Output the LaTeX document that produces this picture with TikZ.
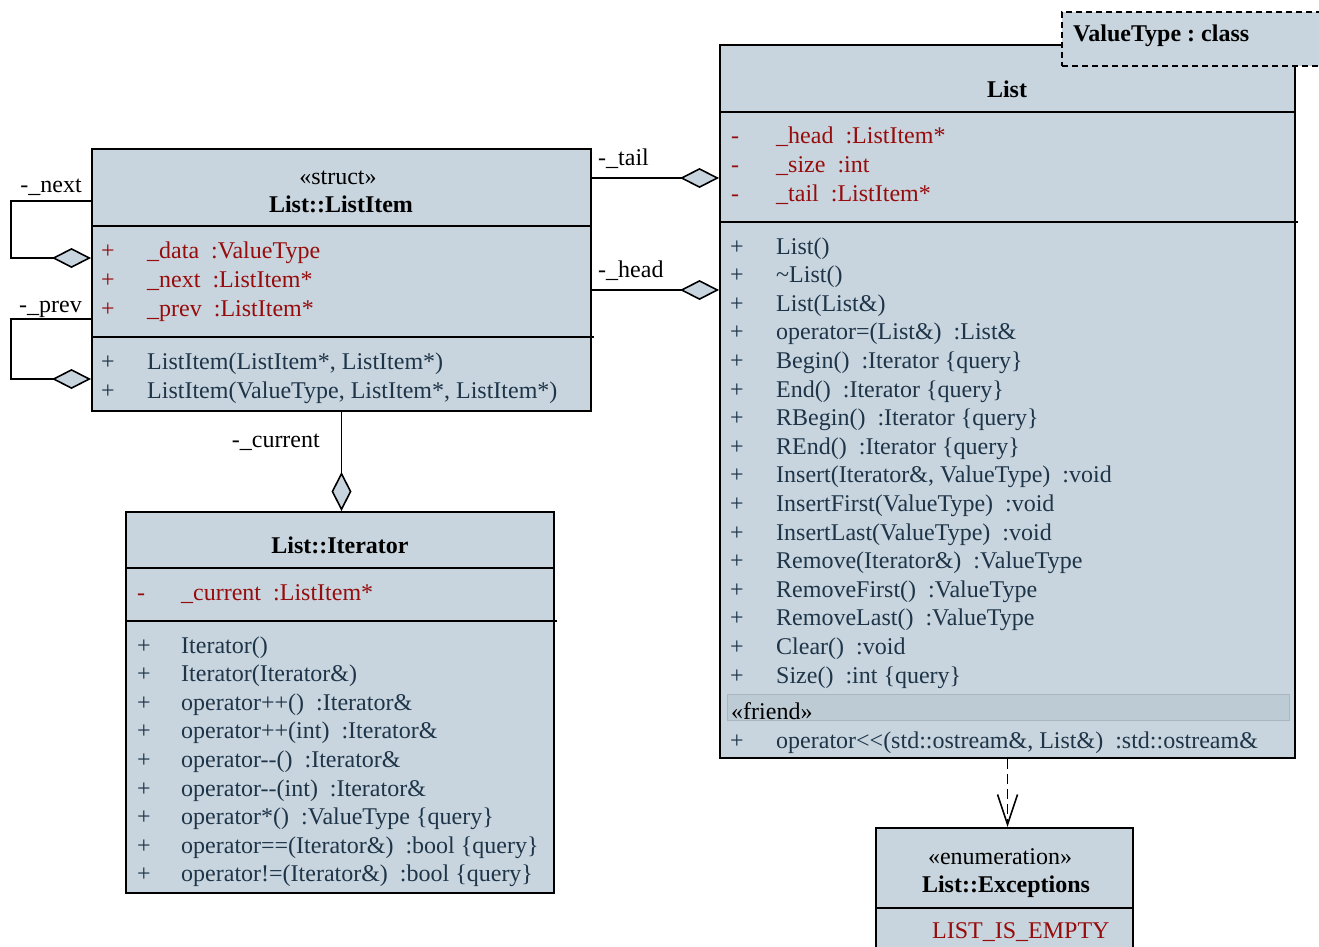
\documentclass[tikz,border=0pt]{standalone}
\usepackage{fontspec}
\setmainfont{Liberation Serif}
\usetikzlibrary{arrows.meta}
\frenchspacing

\definecolor{boxfill}{RGB}{200,213,222}
\definecolor{bandfill}{RGB}{189,203,213}
\definecolor{attrred}{RGB}{150,12,12}
\definecolor{optext}{RGB}{30,52,72}

\newcommand\umlfont{\fontsize{24}{28}\selectfont}

\tikzset{
  cls/.style={draw=black, line width=2pt, fill=boxfill, rectangle, inner sep=0pt},
  txt/.style={anchor=base west, inner sep=0pt, font=\umlfont},
  ctxt/.style={anchor=base, inner sep=0pt, font=\umlfont},
  rtxt/.style={anchor=base east, inner sep=0pt, font=\umlfont},
  attr/.style={txt, text=attrred},
  oper/.style={txt, text=optext},
  sep/.style={line width=2pt},
  agg/.style={line width=1.8pt,
    -{Diamond[length=39pt,width=20pt,fill=boxfill,line width=1.6pt]}},
  dep/.style={line width=1.8pt, dash pattern=on 10pt off 5pt,
    -{Straight Barb[length=30pt,width=20pt,line width=1.6pt]}},
}

\begin{document}
\begin{tikzpicture}[x=1pt,y=-1pt]
\useasboundingbox (0,0) rectangle (1319,946);

% ---------- List::ListItem ----------
\node[cls, minimum width=499pt, minimum height=262pt] (li) at (341.5,280) {};
\draw[sep] (92,226) -- (591,226);
\draw[sep] (92,337) -- (594,337);
\node[ctxt] (li-st) at (338,184) {«struct»};
\node[ctxt, font=\umlfont\bfseries] (li-ti) at (341,212) {List::ListItem};
\foreach \t [count=\i from 0] in {{\_data\ \ :ValueType},{\_next\ \ :ListItem*},{\_prev\ \ :ListItem*}} {
  \node[attr] (li-av\i) at (101,258+29*\i) {+};
  \node[attr] (li-an\i) at (147,258+29*\i) {\t};
}
\foreach \t [count=\i from 0] in {{ListItem(ListItem*, ListItem*)},{ListItem(ValueType, ListItem*, ListItem*)}} {
  \node[oper] (li-ov\i) at (101,369+29*\i) {+};
  \node[oper] (li-on\i) at (147,369+29*\i) {\t};
}

% ---------- List ----------
\node[cls, minimum width=575pt, minimum height=713pt] (list) at (1007.5,401.5) {};
\draw[sep] (720,112) -- (1295,112);
\draw[sep] (720,222) -- (1298,222);
\node[ctxt, font=\umlfont\bfseries] (list-ti) at (1007,97) {List};
\foreach \t [count=\i from 0] in {{\_head\ \ :ListItem*},{\_size\ \ :int},{\_tail\ \ :ListItem*}} {
  \node[attr] (list-av\i) at (731,143+29*\i) {-};
  \node[attr] (list-an\i) at (776,143+29*\i) {\t};
}
\foreach \t [count=\i from 0] in {{List()},{\textasciitilde List()},{List(List\&)},
  {operator=(List\&)\ \ :List\&},{Begin()\ \ :Iterator \{query\}},
  {End()\ \ :Iterator \{query\}},{RBegin()\ \ :Iterator \{query\}},
  {REnd()\ \ :Iterator \{query\}},{Insert(Iterator\&, ValueType)\ \ :void},
  {InsertFirst(ValueType)\ \ :void},{InsertLast(ValueType)\ \ :void},
  {Remove(Iterator\&)\ \ :ValueType},{RemoveFirst()\ \ :ValueType},
  {RemoveLast()\ \ :ValueType},{Clear()\ \ :void},{Size()\ \ :int \{query\}}} {
  \node[oper] (list-ov\i) at (730,254+28.6*\i) {+};
  \node[oper] (list-on\i) at (776,254+28.6*\i) {\t};
}
\fill[bandfill, draw=boxfill!85!black, line width=0.6pt] (727,694) rectangle (1289,720);
\node[txt] (list-fr) at (731,719) {«friend»};
\node[oper] (list-fv) at (730,748) {+};
\node[oper] (list-fn) at (776,748) {operator<{}<(std::ostream\&, List\&)\ \ :std::ostream\&};

% template parameter
\node[cls, dash pattern=on 6pt off 4pt, minimum width=268pt, minimum height=54pt] (vt) at (1196,39) {};
\node[txt, font=\umlfont\bfseries] (vt-t) at (1073,41) {ValueType : class};

% ---------- List::Iterator ----------
\node[cls, minimum width=428pt, minimum height=381pt] (it) at (340,702.5) {};
\draw[sep] (126,568) -- (554,568);
\draw[sep] (126,621) -- (557,621);
\node[ctxt, font=\umlfont\bfseries] (it-ti) at (340,553) {List::Iterator};
\node[attr] (it-av0) at (137,600) {-};
\node[attr] (it-an0) at (181,600) {\_current\ \ :ListItem*};
\foreach \t [count=\i from 0] in {{Iterator()},{Iterator(Iterator\&)},
  {operator++()\ \ :Iterator\&},{operator++(int)\ \ :Iterator\&},
  {operator-{}-()\ \ :Iterator\&},{operator-{}-(int)\ \ :Iterator\&},
  {operator*()\ \ :ValueType \{query\}},{operator==(Iterator\&)\ \ :bool \{query\}},
  {operator!=(Iterator\&)\ \ :bool \{query\}}} {
  \node[oper] (it-ov\i) at (137,653+28.6*\i) {+};
  \node[oper] (it-on\i) at (181,653+28.6*\i) {\t};
}

% ---------- List::Exceptions ----------
\node[cls, minimum width=257pt, minimum height=132pt] (ex) at (1004.5,894) {};
\draw[sep] (876,908) -- (1133,908);
\node[ctxt] (ex-st) at (1000,864) {«enumeration»};
\node[ctxt, font=\umlfont\bfseries] (ex-ti) at (1006,892) {List::Exceptions};
\node[attr] (ex-a0) at (932,938) {LIST\_IS\_EMPTY};

% ---------- associations ----------
\draw[agg] ([yshift=-30pt]li.north east) -- ([yshift=-134pt]list.north west);
\draw[agg] ([yshift=-142pt]li.north east) -- ([yshift=-246pt]list.north west);
\draw[agg] (li.south) -- (li.south |- it.north);
\draw[agg] ([yshift=-53pt]li.north west) -- ++(-80,0) |- ([yshift=-110pt]li.north west);
\draw[agg] ([yshift=-171pt]li.north west) -- ++(-80,0) |- ([yshift=-231pt]li.north west);
\draw[dep] (list.south) -- (list.south |- ex.north);

\node[txt] (lb-tail) at (598,165) {-\_tail};
\node[txt] (lb-head) at (598,277) {-\_head};
\node[rtxt] (lb-next) at (82,192) {-\_next};
\node[rtxt] (lb-prev) at (82,312) {-\_prev};
\node[rtxt] (lb-cur) at (320,447) {-\_current};
\end{tikzpicture}
\end{document}
